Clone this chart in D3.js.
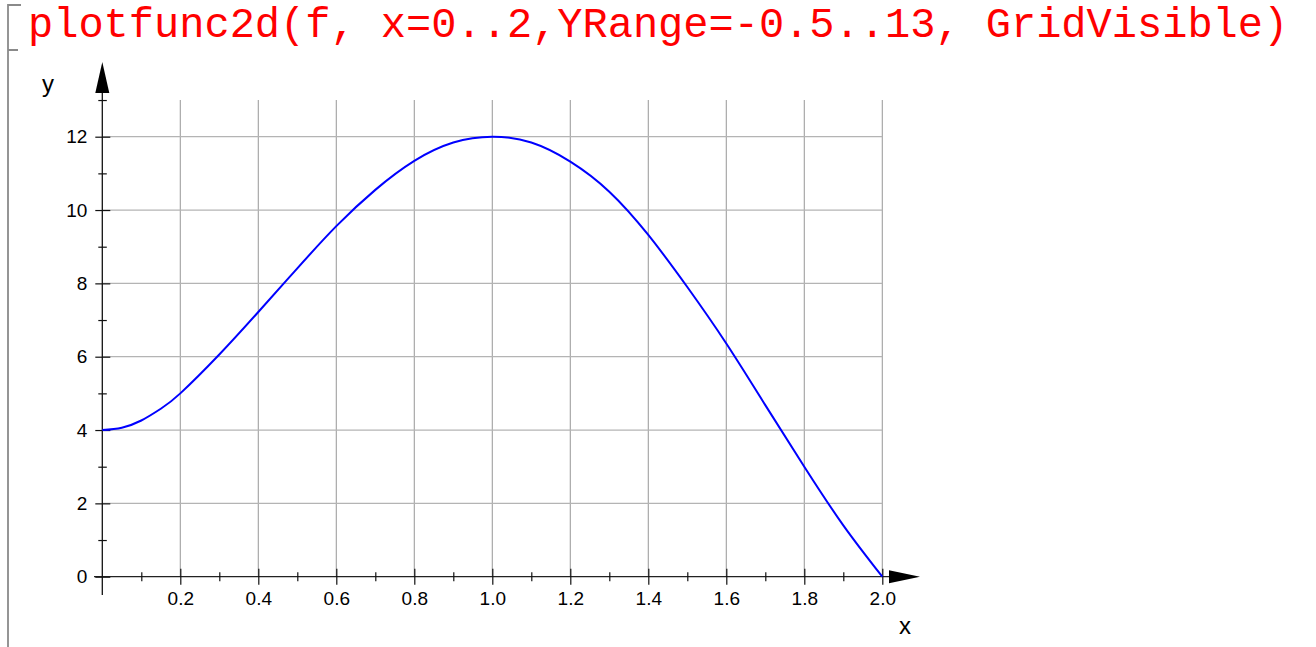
<!DOCTYPE html>
<meta charset="utf-8">
<style>
  body { margin: 0; background: #fff; }
  svg { display: block; }
</style>
<svg width="1316" height="647"></svg>
<script src="https://cdn.jsdelivr.net/npm/d3@7"></script>
<script>

// curve
var xs = [0, 0.05, 0.1, 0.15, 0.2, 0.3, 0.4, 0.5, 0.6, 0.7, 0.8, 0.9, 1.0,
          1.1, 1.2, 1.3, 1.4, 1.5, 1.6, 1.7, 1.8, 1.9, 2.0];
var ys = [4.0, 4.065, 4.26, 4.58, 5.0, 6.06, 7.22, 8.41, 9.56, 10.55, 11.34, 11.84, 12.0,
          11.84, 11.32, 10.5, 9.32, 7.9, 6.36, 4.68, 3.0, 1.4, 0];

var xMajor = [0.2, 0.4, 0.6, 0.8, 1.0, 1.2, 1.4, 1.6, 1.8, 2.0];
var xMinor = [0.1, 0.3, 0.5, 0.7, 0.9, 1.1, 1.3, 1.5, 1.7, 1.9];
var yMajor = [0, 2, 4, 6, 8, 10, 12];
var yMinor = [1, 3, 5, 7, 9, 11, 13];
var command = "plotfunc2d(f, x=0..2,YRange=-0.5..13, GridVisible)";

var svg = d3.select("svg");

var x = d3.scaleLinear().domain([0, 2]).range([102.3, 882.3]);
var y = d3.scaleLinear().domain([0, 12]).range([576.7, 136.7]);

// notebook bracket + input line
svg.append("path")
    .attr("d", "M21,5H8V647M8,50H18")
    .attr("fill", "none")
    .attr("stroke", "#8a8a8a")
    .attr("stroke-width", 1.8);

svg.append("text")
    .attr("x", 28)
    .attr("y", 37)
    .attr("font-family", "'Liberation Mono', 'Courier New', monospace")
    .attr("font-size", 42)
    .attr("fill", "#ff0000")
    .text(command);

// grid
svg.append("g").selectAll("line")
    .data(xMajor)
  .enter().append("line")
    .attr("x1", d => x(d)).attr("x2", d => x(d))
    .attr("y1", y(0)).attr("y2", y(13))
    .attr("stroke", "#a0a0a0").attr("stroke-width", 1.1);

svg.append("g").selectAll("line")
    .data(yMajor.filter(d => d > 0))
  .enter().append("line")
    .attr("x1", x(0)).attr("x2", x(2))
    .attr("y1", d => y(d)).attr("y2", d => y(d))
    .attr("stroke", "#b4b4b4").attr("stroke-width", 1.3);

// axis lines
svg.append("line")
    .attr("x1", 94).attr("x2", 890)
    .attr("y1", y(0)).attr("y2", y(0))
    .attr("stroke", "#222").attr("stroke-width", 1.3);
svg.append("line")
    .attr("x1", x(0)).attr("x2", x(0))
    .attr("y1", 595).attr("y2", 92)
    .attr("stroke", "#111").attr("stroke-width", 1.3);

// arrows
svg.append("path")
    .attr("d", "M" + x(0) + ",62L" + (x(0) + 7) + ",93L" + (x(0) - 7) + ",93Z")
    .attr("fill", "#000");
svg.append("path")
    .attr("d", "M920," + y(0) + "L889," + (y(0) - 6.5) + "L889," + (y(0) + 6.5) + "Z")
    .attr("fill", "#000");

var tickFont = "'Liberation Sans', Arial, Helvetica, sans-serif";

function styleAxis(g) {
  g.select(".domain").remove();
  g.selectAll(".tick line").attr("stroke", "#111").attr("stroke-width", 1.2);
  g.selectAll(".tick text")
      .attr("fill", "#000")
      .attr("font-family", tickFont)
      .attr("font-size", 19);
}

// y axis ticks
svg.append("g")
    .attr("transform", "translate(" + (x(0) + 8) + ",0)")
    .call(d3.axisLeft(y).tickValues(yMajor).tickSize(15).tickPadding(8).tickFormat(d3.format("d")))
    .call(styleAxis);
svg.append("g")
    .attr("transform", "translate(" + (x(0) + 4.5) + ",0)")
    .call(d3.axisLeft(y).tickValues(yMinor).tickSize(8.5).tickFormat(""))
    .call(styleAxis);

// x axis ticks
svg.append("g")
    .attr("transform", "translate(0," + (y(0) - 8) + ")")
    .call(d3.axisBottom(x).tickValues(xMajor).tickSize(16).tickPadding(7).tickFormat(d3.format(".1f")))
    .call(styleAxis);
svg.append("g")
    .attr("transform", "translate(0," + (y(0) - 4.5) + ")")
    .call(d3.axisBottom(x).tickValues(xMinor).tickSize(9).tickFormat(""))
    .call(styleAxis);

// axis titles
svg.append("text")
    .attr("x", 48).attr("y", 92)
    .attr("text-anchor", "middle")
    .attr("font-family", tickFont).attr("font-size", 24)
    .text("y");
svg.append("text")
    .attr("x", 905).attr("y", 634)
    .attr("text-anchor", "middle")
    .attr("font-family", tickFont).attr("font-size", 24)
    .text("x");

// curve
var line = d3.line()
    .x(d => x(d[0]))
    .y(d => y(d[1]))
    .curve(d3.curveNatural);

svg.append("path")
    .datum(d3.zip(xs, ys))
    .attr("d", line)
    .attr("fill", "none")
    .attr("stroke", "#0000ff")
    .attr("stroke-width", 2);

</script>
